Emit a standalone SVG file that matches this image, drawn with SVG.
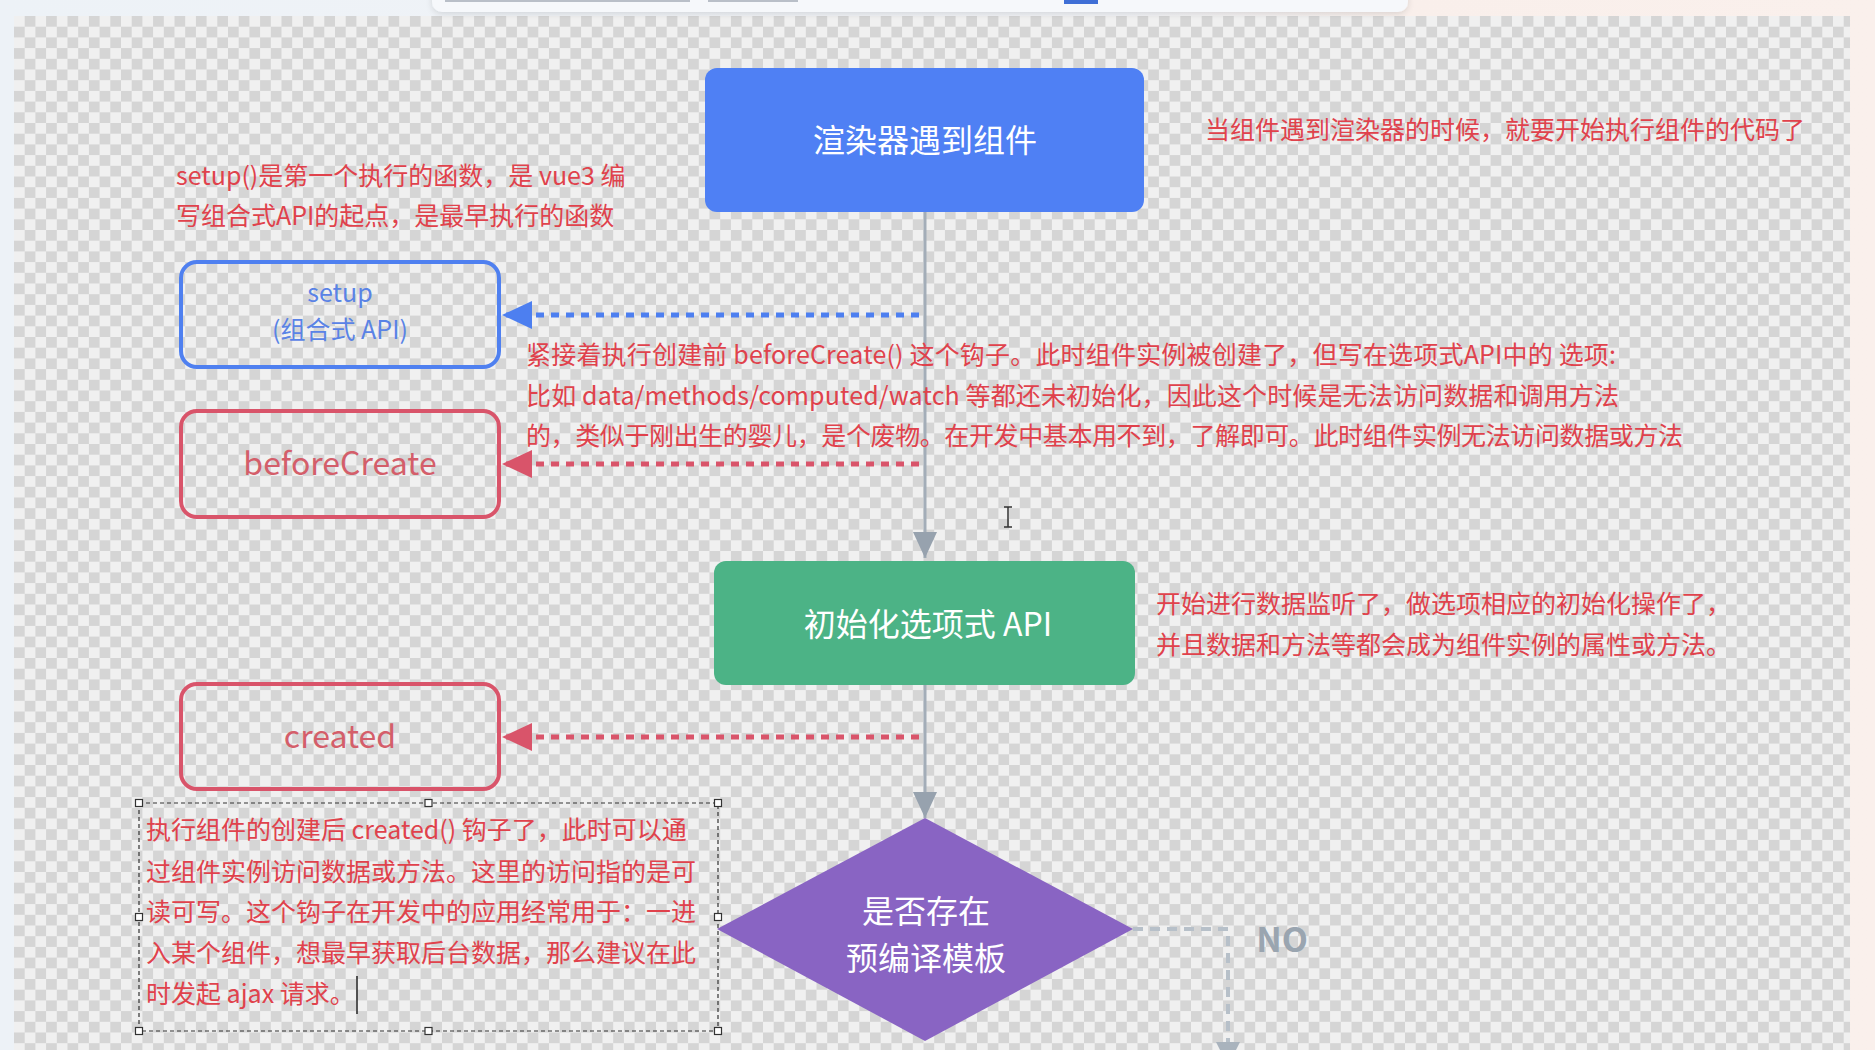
<svg xmlns="http://www.w3.org/2000/svg" width="1875" height="1050" viewBox="0 0 1875 1050">
  <defs>
    <linearGradient id="bg" x1="0" y1="0" x2="1" y2="0">
      <stop offset="0" stop-color="#edf2f7"/>
      <stop offset="0.6" stop-color="#f1f3f7"/>
      <stop offset="0.75" stop-color="#f9efeb"/>
      <stop offset="1" stop-color="#faf0ec"/>
    </linearGradient>
    <pattern id="checker" patternUnits="userSpaceOnUse" x="14" y="16" width="21.4" height="21.4">
      <rect width="21.4" height="21.4" fill="#f0f0f0"/>
      <rect x="10.7" y="0" width="10.7" height="10.7" fill="#d5d5d5"/>
      <rect x="0" y="10.7" width="10.7" height="10.7" fill="#d5d5d5"/>
    </pattern>
    <filter id="shadow" x="-5%" y="-50%" width="110%" height="250%">
      <feDropShadow dx="0" dy="2" stdDeviation="3" flood-color="#000" flood-opacity="0.12"/>
    </filter>
    <marker id="arrGray" markerUnits="userSpaceOnUse" markerWidth="26" markerHeight="24" refX="26" refY="12" orient="auto">
      <path d="M0,0 L26,12 L0,24 z" fill="#97a2ae"/>
    </marker>
    <marker id="arrBlue" markerUnits="userSpaceOnUse" markerWidth="30" markerHeight="28" refX="30" refY="14" orient="auto">
      <path d="M0,0 L30,14 L0,28 z" fill="#4d7ff0"/>
    </marker>
    <marker id="arrRed" markerUnits="userSpaceOnUse" markerWidth="30" markerHeight="28" refX="30" refY="14" orient="auto">
      <path d="M0,0 L30,14 L0,28 z" fill="#d9546a"/>
    </marker>
  </defs>
  <style>
    text { font-family: 'Noto Sans CJK SC', 'Noto Sans', sans-serif; }
    .note { font-size: 25px; fill: #e0424c; }
    .lbl { text-anchor: middle; }
    .white { fill: #ffffff; }
    .flow { stroke: #a3adb8; stroke-width: 3; fill: none; }
    .dotBlue { stroke: #4d7ff0; stroke-width: 5; stroke-dasharray: 8 7; fill: none; }
    .dotRed { stroke: #d9546a; stroke-width: 5; stroke-dasharray: 8 7; fill: none; }
    .dashGray { stroke: #b7c0c9; stroke-width: 4; stroke-dasharray: 10 7; fill: none; }
    .handle { fill: #ffffff; stroke: #333333; stroke-width: 1.2; }
  </style>

  <!-- background -->
  <rect x="0" y="0" width="1875" height="1050" fill="url(#bg)"/>
  <rect x="14" y="16" width="1836" height="1034" fill="url(#checker)"/>

  <!-- top toolbar -->
  <g id="toolbar">
    <rect x="432" y="-20" width="976" height="32" rx="10" fill="#f6f8fb" filter="url(#shadow)"/>
    <rect x="445" y="0" width="245" height="2" fill="#b9bfc8"/>
    <rect x="708" y="0" width="90" height="2" fill="#b9bfc8"/>
    <rect x="1064" y="0" width="34" height="4" fill="#3f6fd6"/>
  </g>

  <!-- connectors -->
  <g id="connectors">
    <line class="flow" x1="925" y1="212" x2="925" y2="558" marker-end="url(#arrGray)"/>
    <line class="flow" x1="925" y1="685" x2="925" y2="818" marker-end="url(#arrGray)"/>
    <line class="dotBlue" x1="919" y1="315" x2="502" y2="315" marker-end="url(#arrBlue)"/>
    <line class="dotRed" x1="919" y1="464" x2="502" y2="464" marker-end="url(#arrRed)"/>
    <line class="dotRed" x1="919" y1="737" x2="502" y2="737" marker-end="url(#arrRed)"/>
    <path class="dashGray" d="M1133,929 H1228 V1068" />
    <path d="M1216,1042 L1240,1042 L1228,1066 z" fill="#a9b3bd"/>
    <text x="1282" y="952" text-anchor="middle" font-size="34" font-weight="bold" fill="#9aa5b0">NO</text>
  </g>

  <!-- nodes -->
  <g id="n-render">
    <rect x="705" y="68" width="439" height="144" rx="12" fill="#4f80f4"/>
    <text class="lbl white" x="925" y="152" font-size="32">渲染器遇到组件</text>
  </g>

  <g id="n-setup">
    <rect x="181" y="262" width="318" height="105" rx="16" fill="none" stroke="#4f80f0" stroke-width="4"/>
    <text class="lbl" x="340" y="302" font-size="25" fill="#5a83e6">setup</text>
    <text class="lbl" x="340" y="339" font-size="25" fill="#5a83e6">(组合式 API)</text>
  </g>

  <g id="n-beforecreate">
    <rect x="181" y="411" width="318" height="106" rx="16" fill="none" stroke="#d9546a" stroke-width="4"/>
    <text class="lbl" x="340" y="475" font-size="32" fill="#d45e6a">beforeCreate</text>
  </g>

  <g id="n-init">
    <rect x="714" y="561" width="421" height="124" rx="12" fill="#4cb386"/>
    <text class="lbl white" x="928" y="636" font-size="32">初始化选项式 API</text>
  </g>

  <g id="n-created">
    <rect x="181" y="684" width="318" height="105" rx="16" fill="none" stroke="#d9546a" stroke-width="4"/>
    <text class="lbl" x="340" y="748" font-size="32" fill="#d45e6a">created</text>
  </g>

  <g id="n-decision">
    <polygon points="925,818 1133,929 925,1041 717,929" fill="#8964c3"/>
    <text class="lbl white" x="926" y="923" font-size="32">是否存在</text>
    <text class="lbl white" x="926" y="970" font-size="32">预编译模板</text>
  </g>

  <!-- annotations -->
  <g id="note-render">
    <text class="note" x="1205" y="139">当组件遇到渲染器的时候，就要开始执行组件的代码了</text>
  </g>
  <g id="note-setup">
    <text class="note" x="176" y="185">setup()是第一个执行的函数，是 vue3 编</text>
    <text class="note" x="176" y="225">写组合式API的起点，是最早执行的函数</text>
  </g>
  <g id="note-beforecreate">
    <text class="note" x="526" y="364" textLength="1090" lengthAdjust="spacing">紧接着执行创建前 beforeCreate() 这个钩子。此时组件实例被创建了，但写在选项式API中的 选项:</text>
    <text class="note" x="526" y="405" textLength="1093" lengthAdjust="spacing">比如 data/methods/computed/watch 等都还未初始化，因此这个时候是无法访问数据和调用方法</text>
    <text class="note" x="526" y="445" textLength="1157" lengthAdjust="spacing">的，类似于刚出生的婴儿，是个废物。在开发中基本用不到，了解即可。此时组件实例无法访问数据或方法</text>
  </g>
  <g id="note-init">
    <text class="note" x="1156" y="613">开始进行数据监听了，做选项相应的初始化操作了，</text>
    <text class="note" x="1156" y="654">并且数据和方法等都会成为组件实例的属性或方法。</text>
  </g>
  <g id="note-created">
    <rect x="139" y="803" width="579" height="228" fill="none" stroke="#333333" stroke-width="1.2" stroke-dasharray="4 3"/>
    <rect class="handle" x="135.5" y="799.5" width="7" height="7"/>
    <rect class="handle" x="425" y="799.5" width="7" height="7"/>
    <rect class="handle" x="714.5" y="799.5" width="7" height="7"/>
    <rect class="handle" x="135.5" y="913.5" width="7" height="7"/>
    <rect class="handle" x="714.5" y="913.5" width="7" height="7"/>
    <rect class="handle" x="135.5" y="1027.5" width="7" height="7"/>
    <rect class="handle" x="425" y="1027.5" width="7" height="7"/>
    <rect class="handle" x="714.5" y="1027.5" width="7" height="7"/>
    <text class="note" x="146" y="839">执行组件的创建后 created() 钩子了，此时可以通</text>
    <text class="note" x="146" y="881">过组件实例访问数据或方法。这里的访问指的是可</text>
    <text class="note" x="146" y="921">读可写。这个钩子在开发中的应用经常用于：一进</text>
    <text class="note" x="146" y="962">入某个组件，想最早获取后台数据，那么建议在此</text>
    <text class="note" x="146" y="1003">时发起 ajax 请求。</text>
    <line x1="357" y1="976" x2="357" y2="1014" stroke="#222222" stroke-width="1.5"/>
  </g>

  <!-- mouse I-beam cursor -->
  <g id="cursor" stroke="#333333" stroke-width="1.5" fill="none">
    <path d="M1004,507 H1012 M1008,507 V527 M1004,527 H1012"/>
  </g>
</svg>
